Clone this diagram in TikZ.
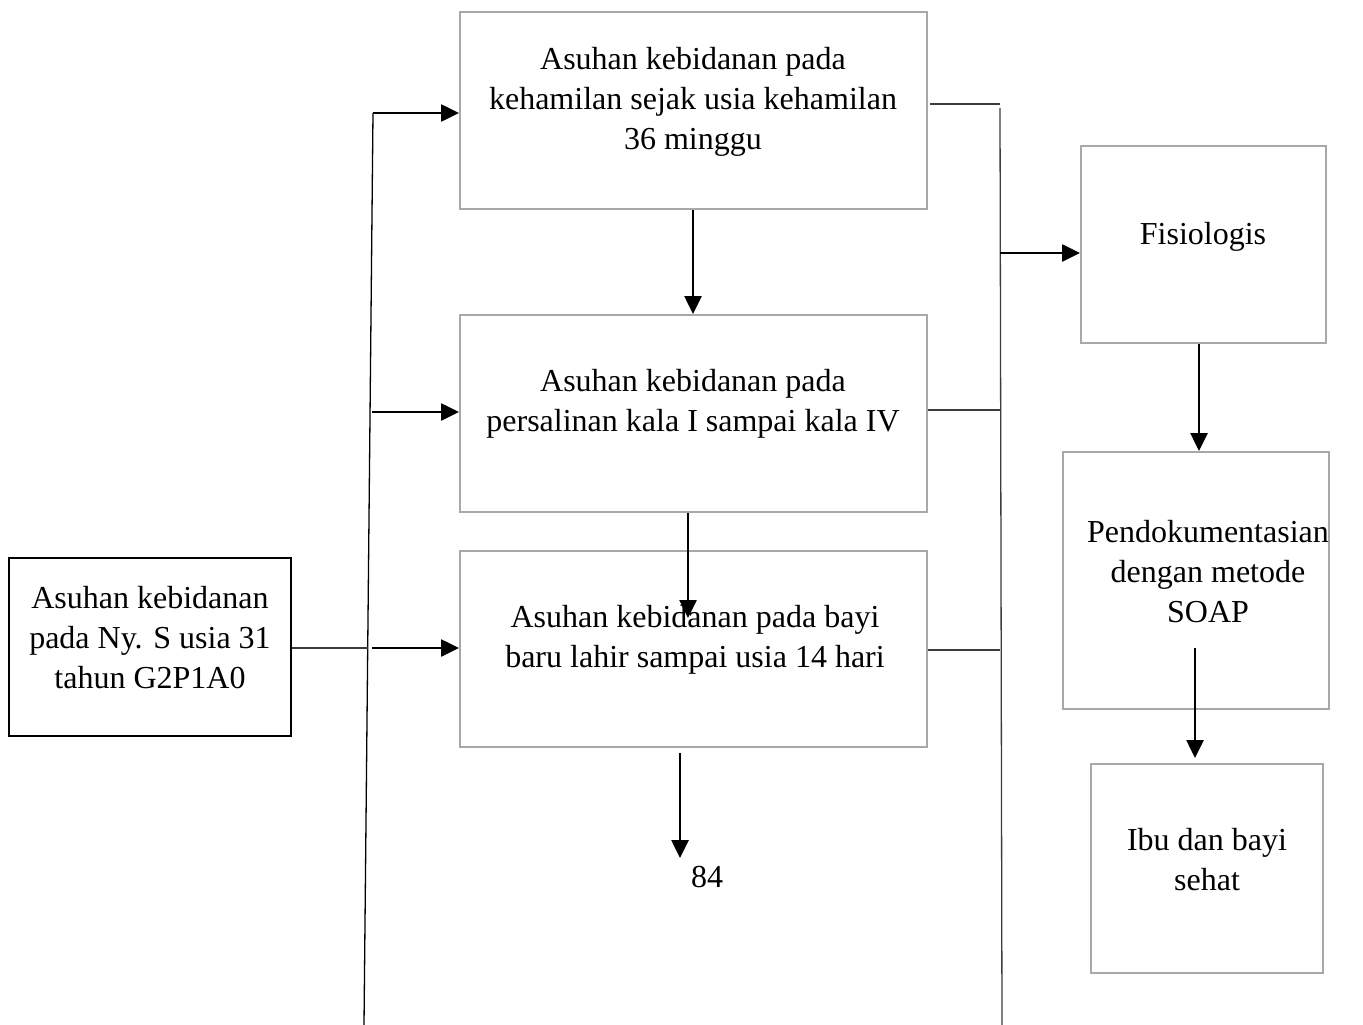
\documentclass[tikz,border=0pt]{standalone}
\usepackage{fontspec}
\setmainfont{Liberation Serif}
\usetikzlibrary{arrows.meta}
\definecolor{boxgray}{RGB}{168,168,168}
\definecolor{linegray}{RGB}{60,60,60}
\tikzset{
  graybox/.style={draw=boxgray,line width=2pt,inner sep=0pt,fill=white},
  blackbox/.style={draw=black,line width=2pt,inner sep=0pt},
  txt/.style={align=center,font=\fontsize{32}{40}\selectfont,inner sep=0pt},
  arr/.style={draw=black,line width=2.6pt,-{Triangle[length=18pt,width=17pt]}},
  thin/.style={draw=linegray,line width=1.3pt},
}
\begin{document}
\begin{tikzpicture}[x=1pt,y=-1pt]
\useasboundingbox[fill=white] (0,0) rectangle (1363,1025);
% boxes
\node[blackbox,minimum width=282pt,minimum height=178pt] (L) at (150,647) {};
\node[graybox,minimum width=467pt,minimum height=197pt] (b1) at (693.5,110.5) {};
\node[graybox,minimum width=467pt,minimum height=197pt] (b2) at (693.5,413.5) {};
\node[graybox,minimum width=467pt,minimum height=196pt] (b3) at (693.5,649) {};
\node[graybox,minimum width=245pt,minimum height=197pt] (f) at (1203.5,244.5) {};
\node[graybox,minimum width=266pt,minimum height=257pt] (p) at (1196,580.5) {};
\node[graybox,minimum width=232pt,minimum height=209pt] (ib) at (1207,868.5) {};
% texts
\node[txt] (tL) at (150,638) {Asuhan kebidanan\\pada Ny. S usia 31\\tahun G2P1A0};
\node[txt] (t1) at (693,102) {Asuhan kebidanan pada\\kehamilan sejak usia kehamilan\\36 minggu};
\node[txt] (t2) at (693,404) {Asuhan kebidanan pada\\persalinan kala I sampai kala IV};
\node[txt] (t3) at (695,640) {Asuhan kebidanan pada bayi\\baru lahir sampai usia 14 hari};
\node[txt] (tf) at (1203,237) {Fisiologis};
\node[txt] (tp) at (1208,572) {Pendokumentasian\\dengan metode\\SOAP};
\node[txt] (ti) at (1207,860) {Ibu dan bayi\\sehat};
\node[txt] (n84) at (707,877) {84};
% left trunk
\coordinate (Ltop) at (373,113);
\coordinate (Lbot) at (364,1025);
\coordinate (A2) at (372,412);
\coordinate (A3) at (372,648);
\coordinate (J3) at (368,648);
\draw[thin,draw=black] (Ltop) -- (Lbot);
\draw[thin] (L.east |- J3) -- (J3);
\draw[arr] (Ltop) -- (Ltop -| b1.west);
\draw[arr] (A2) -- (A2 -| b2.west);
\draw[arr] (A3) -- (A3 -| b3.west);
% right trunk
\coordinate (R1) at (1000,104);
\coordinate (Rtop) at (1000,108);
\coordinate (Rbot) at (1002,1025);
\coordinate (R2) at (1000,410);
\coordinate (R3) at (1000,650);
\coordinate (Rf) at (1000,253);
\draw[thin] (Rtop) -- (Rbot);
\draw[thin] (930,104) -- (R1);
\draw[thin] (R2 -| b2.east) -- (R2);
\draw[thin] (R3 -| b3.east) -- (R3);
\draw[arr] (Rf) -- (Rf -| f.west);
% vertical arrows
\coordinate (d1) at (693,0);
\draw[arr] (d1 |- b1.south) -- (d1 |- b2.north);
\coordinate (d2) at (688,618);
\draw[arr] (d2 |- b2.south) -- (d2);
\coordinate (d3a) at (680,753);
\coordinate (d3b) at (680,858);
\draw[arr] (d3a) -- (d3b);
\coordinate (d4) at (1199,0);
\draw[arr] (d4 |- f.south) -- (d4 |- p.north);
\coordinate (d5a) at (1195,648);
\coordinate (d5b) at (1195,758);
\draw[arr] (d5a) -- (d5b);
\end{tikzpicture}
\end{document}
